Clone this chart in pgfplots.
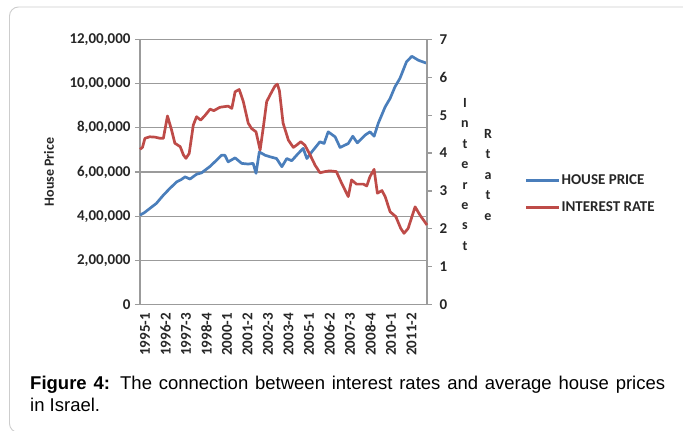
\documentclass[border=0pt]{standalone}
\usepackage{fontspec}
\setmainfont{Carlito}
\newfontfamily\capfont{Liberation Sans}
\usepackage{pgfplots}
\pgfplotsset{compat=1.18}
\definecolor{hpblue}{RGB}{74,126,187}
\definecolor{irred}{RGB}{190,75,72}
\definecolor{gridgray}{RGB}{155,155,155}
\definecolor{boxgray}{RGB}{205,205,205}
\begin{document}
\begin{tikzpicture}
\useasboundingbox (0pt,0pt) rectangle (683pt,431pt);
\begin{scope}
\clip (0pt,0pt) rectangle (683pt,431pt);
\draw[boxgray, line width=0.9pt, rounded corners=9pt] (9.5pt,424pt) rectangle (700pt,-1.5pt);
\end{scope}
\begin{axis}[
  at={(140pt,126.5pt)}, anchor=south west,
  width=287pt, height=265pt, scale only axis,
  xmin=0, xmax=70, ymin=0, ymax=1200000,
  xtick={0,5,...,65},
  xticklabels={1995-1,1996-2,1997-3,1998-4,2000-1,2001-2,2002-3,2003-4,2005-1,2006-2,2007-3,2008-4,2010-1,2011-2},
  ytick={0,200000,400000,600000,800000,1000000,1200000},
  yticklabels={0,{2,00,000},{4,00,000},{6,00,000},{8,00,000},{10,00,000},{12,00,000}},
  scaled y ticks=false,
  ytick pos=left,
  tick align=outside, major tick length=5pt,
  major x tick style={draw=none},
  ytick style={gridgray, line width=1.2pt},
  ymajorgrids, grid style={gridgray, line width=1.2pt},
  axis line style={gridgray, line width=1.2pt},
  tick label style={font=\bfseries\fontsize{15}{18}\selectfont, text=black!85},
  xticklabel style={rotate=90, anchor=east, yshift=-5pt},
  yticklabel style={xshift=-1pt},
  clip=false,
]
\addplot[hpblue, line width=2.7pt, line join=round] coordinates {
(0,405000)(1,415000)(2.4,435000)(4,458000)(5,480000)(5.7,495000)(7.3,526000)
(9,556000)(10,565000)(11,578000)(12.2,568000)(13.8,590000)(15,596000)(17,624000)
(19.1,661000)(19.9,676000)(20.7,676000)(21.5,646000)(23.2,664000)(24.8,639000)
(26.4,636000)(27.6,639000)(28.3,594000)(29.1,691000)(30.5,676000)(31.7,669000)
(33.3,661000)(34.6,624000)(35.8,661000)(37,651000)(38.6,684000)(39.8,707000)
(40.7,661000)(41.9,691000)(43.9,737000)(44.9,729000)(45.9,782000)(47.6,759000)
(48.8,711000)(50.8,729000)(51.9,762000)(53,732000)(54.9,767000)(56.1,782000)
(57.1,762000)(58.1,820000)(59.8,895000)(61,933000)(62.2,986000)(63.4,1024000)
(65,1099000)(66.3,1124000)(67.9,1106000)(70,1092000)
};
\end{axis}
\begin{axis}[
  at={(140pt,126.5pt)}, anchor=south west,
  width=287pt, height=265pt, scale only axis,
  xmin=0, xmax=70, ymin=0, ymax=7,
  axis x line=none, axis y line*=right,
  ytick={0,1,...,7},
  tick align=outside, major tick length=5pt,
  ytick style={gridgray, line width=1.2pt},
  axis line style={gridgray, line width=1.2pt},
  /pgf/number format/assume math mode=true,
  tick label style={font=\bfseries\fontsize{15}{18}\selectfont, text=black!85},
  yticklabel style={xshift=4pt},
  clip=false,
  legend image code/.code={\draw[#1] (0pt,0pt) -- (33pt,0pt);},
  legend cell align=left,
  legend style={at={(1.33,0.417)}, anchor=west, draw=none, fill=none,
    font=\bfseries\fontsize{15}{18}\selectfont, row sep=14pt,
    nodes={inner sep=1pt, text=black!85}},
]
\addlegendimage{hpblue, line width=2.7pt}
\addlegendentry{HOUSE PRICE}
\addplot[irred, line width=2.7pt, line join=round] coordinates {
(0,4.1)(0.6,4.15)(1.2,4.39)(2.4,4.43)(3.7,4.42)(4.9,4.39)(5.7,4.39)(6.7,4.98)
(7.7,4.61)(8.5,4.26)(9.8,4.17)(10.6,3.95)(11.2,3.86)(12,3.99)(13,4.74)(13.8,4.96)
(14.8,4.87)(15.9,5.0)(17.1,5.16)(18,5.12)(19.5,5.21)(21.5,5.24)(22.4,5.18)
(23.2,5.62)(24.2,5.68)(25.2,5.36)(26.4,4.79)(27.2,4.65)(28.3,4.56)(29.3,4.08)
(30.1,4.70)(30.9,5.36)(31.7,5.53)(32.9,5.77)(33.5,5.82)(34,5.65)(34.9,4.79)
(36.2,4.34)(37.4,4.15)(38.2,4.21)(39.2,4.30)(40.2,4.21)(41.5,3.95)(42.7,3.68)
(43.9,3.48)(45.1,3.51)(46.3,3.53)(47.9,3.51)(49.2,3.20)(50.8,2.85)(51.6,3.29)
(52.8,3.18)(54.5,3.18)(55.3,3.13)(56.1,3.38)(57.1,3.57)(57.9,2.94)(59,3.01)
(59.8,2.85)(61,2.45)(62.4,2.32)(63.6,2.01)(64.4,1.88)(65.4,2.01)(67.1,2.58)
(68.3,2.36)(70,2.1)
};
\addlegendentry{INTEREST RATE}
\end{axis}
\node[rotate=90, inner sep=0pt, font=\bfseries\fontsize{14}{17}\selectfont, text=black!85] at (49pt,259pt) {House Price};
\node[align=center, inner sep=0pt, font=\bfseries\fontsize{14}{20.4}\selectfont, text=black!85] at (465pt,256.5pt) {I\\n\\t\\e\\r\\e\\s\\t};
\node[align=center, inner sep=0pt, font=\bfseries\fontsize{14}{20.5}\selectfont, text=black!85] at (488pt,256pt) {R\\t\\a\\t\\e};
\node[anchor=base west, inner sep=0pt, font=\capfont\fontsize{18.5}{22}\selectfont] at (30pt,41pt) {\makebox[635pt][s]{\textbf{Figure 4:} The connection between interest rates and average house prices}};
\node[anchor=base west, inner sep=0pt, font=\capfont\fontsize{18.5}{22}\selectfont] at (30pt,19pt) {in Israel.};
\end{tikzpicture}
\end{document}
